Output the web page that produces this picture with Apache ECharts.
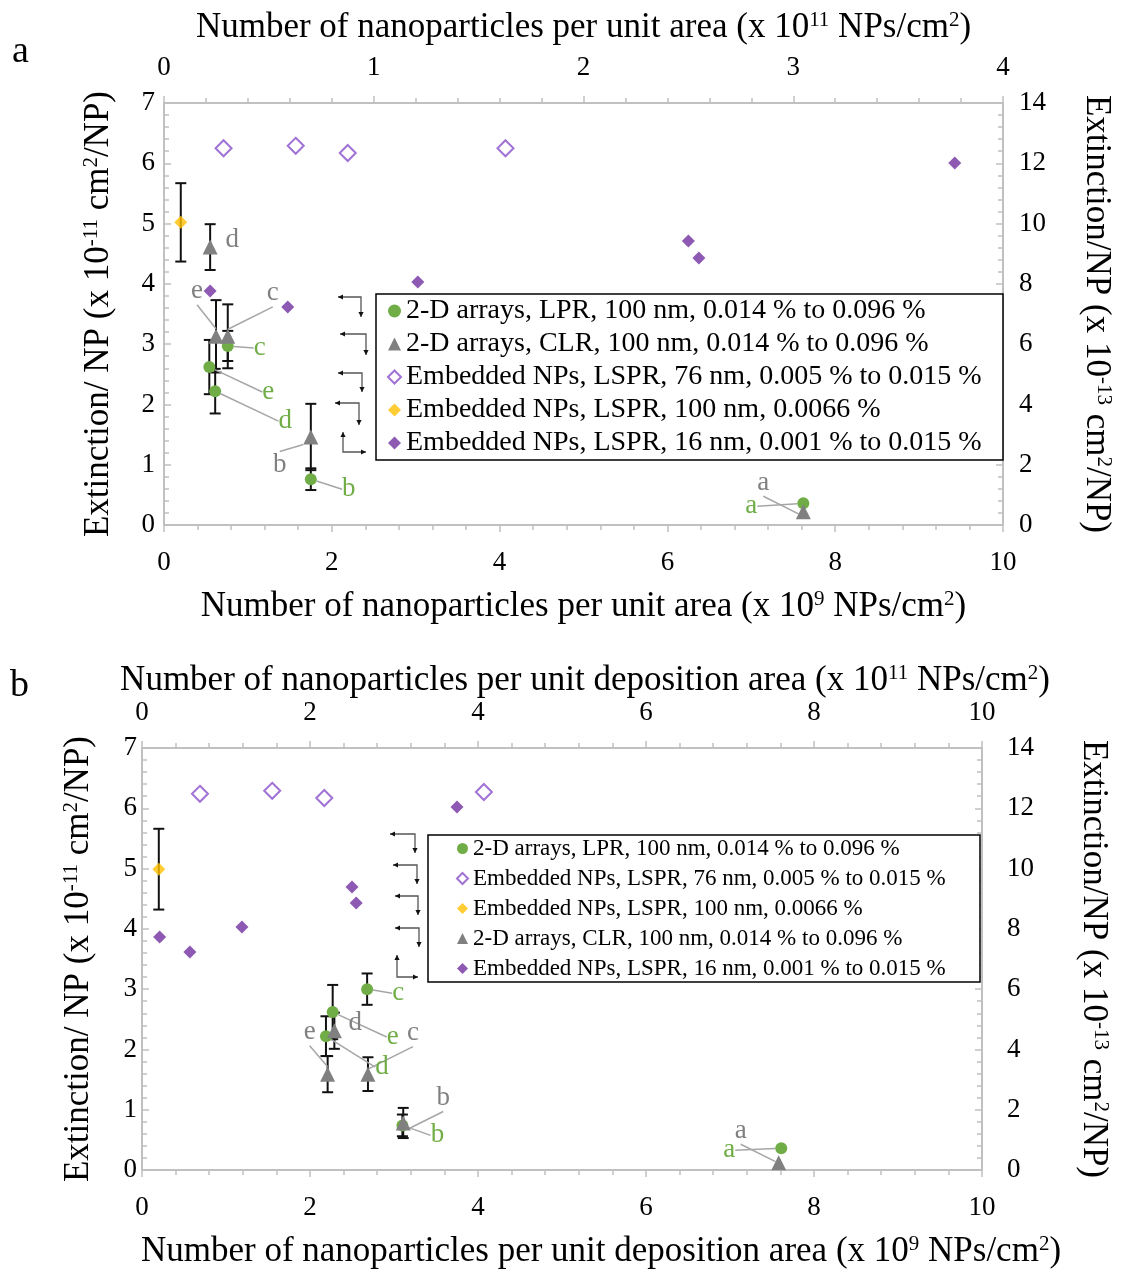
<!DOCTYPE html>
<html>
<head>
<meta charset="utf-8">
<script src="https://cdn.jsdelivr.net/npm/echarts@6/dist/echarts.min.js"></script>
<style>
html,body{margin:0;padding:0;background:#fff;}
#chart{width:1122px;height:1272px;}
</style>
</head>
<body>
<div id="chart"></div>
<script>
// ---------------- DATA ----------------
const letters = ['a', 'b', 'c', 'd', 'e'];
const seriesNames = [
  '2-D arrays, LPR, 100 nm, 0.014 % to 0.096 %',
  '2-D arrays, CLR, 100 nm, 0.014 % to 0.096 %',
  'Embedded NPs, LSPR, 76 nm, 0.005 % to 0.015 %',
  'Embedded NPs, LSPR, 100 nm, 0.0066 %',
  'Embedded NPs, LSPR, 16 nm, 0.001 % to 0.015 %'
];
// Panel a
const aLprX = [7.62, 1.75, 0.76, 0.61, 0.54];
const aLprY = [0.36, 0.76, 2.97, 2.22, 2.62];
const aLprErr = [0, 0.18, 0.25, 0.37, 0.45];
const aClrX = [7.62, 1.75, 0.76, 0.55, 0.62];
const aClrY = [0.22, 1.46, 3.13, 4.61, 3.13];
const aClrErr = [0, 0.55, 0.53, 0.38, 0.60];
const a76X = [0.71, 1.57, 2.19, 4.07];
const a76Y = [6.25, 6.29, 6.17, 6.25];
const a100X = [0.20];
const a100Y = [5.02];
const a100Err = [0.65];
const a16X = [0.22, 0.59, 1.21, 2.50, 2.55, 3.77];   // top axis, x 10^11
const a16Y = [7.76, 7.23, 8.06, 9.42, 8.86, 12.01];  // right axis, x 10^-13
// Panel b
const bLprX = [7.61, 3.10, 2.68, 2.19, 2.27];
const bLprY = [0.36, 0.74, 3.00, 2.22, 2.62];
const bLprErr = [0, 0.18, 0.26, 0.33, 0.45];
const bClrX = [7.58, 3.11, 2.69, 2.29, 2.21];
const bClrY = [0.12, 0.78, 1.59, 2.31, 1.59];
const bClrErr = [0, 0.25, 0.28, 0.30, 0.30];
const b76X = [0.69, 1.55, 2.17, 4.07];
const b76Y = [6.24, 6.29, 6.17, 6.27];
const b100X = [0.20];
const b100Y = [4.99];
const b100Err = [0.67];
const b16X = [0.21, 0.57, 1.19, 2.50, 2.55, 3.75];
const b16Y = [7.73, 7.23, 8.06, 9.39, 8.86, 12.04];
// Tick settings
const aTopMax = 4, aTopInterval = 1;
const bTopMax = 10, bTopInterval = 2;

// ---------------- STYLES (label offsets etc.) ----------------
const FONT = '"Liberation Serif", "Times New Roman", Times, serif';
const GREEN = '#70AD47', GRAY = '#808080', PURPLE = '#7030A0', OPURPLE = '#8a4fcb', ORANGE = '#FFC000';
const AXIS_GRAY = '#c0c0c0';
const NAME_FS = 35, TICK_FS = 27;
const aLprOff = [[-52, 3], [38, 10], [32, 2], [70, 30], [59, 25]];
const aClrOff = [[-40, -29], [-31, 28], [45, -43], [22, -7], [-19, -45]];
const bLprOff = [[-52, 2], [35, 10], [31, 4], [56, 31], [60, 25]];
const bClrOff = [[-38, -32], [40, -25], [45, -41], [21, -8], [-18, -42]];
const clrLine = [true, true, true, false, true];

// ---------------- HELPERS ----------------
const rich = {
  sup: { fontSize: 21, verticalAlign: 'top', fontFamily: FONT, color: '#000', lineHeight: 21 }
};
function xAxis(grid, pos, max, interval, name, nameGap, margin, shift) {
  return {
    type: 'value', gridIndex: grid, position: pos, min: 0, max: max, interval: interval,
    name: name, nameLocation: 'middle', nameGap: nameGap,
    nameTextStyle: { fontFamily: FONT, fontSize: NAME_FS, color: '#000', rich: rich, padding: [0, 0, 0, shift || 0] },
    axisLine: { show: true, onZero: false, lineStyle: { color: AXIS_GRAY, width: 2 } },
    axisTick: { show: true, length: 7, lineStyle: { color: AXIS_GRAY, width: 1.5 } },
    minorTick: { show: true, splitNumber: 5, length: 5, lineStyle: { color: AXIS_GRAY, width: 1.5 } },
    axisLabel: { fontFamily: FONT, fontSize: TICK_FS, color: '#000', margin: margin },
    splitLine: { show: false }
  };
}
function yAxis(grid, pos, max, interval, name, nameGap, margin, rotate) {
  return {
    type: 'value', gridIndex: grid, position: pos, min: 0, max: max, interval: interval,
    name: name, nameLocation: 'middle', nameGap: nameGap, nameRotate: rotate,
    nameTextStyle: { fontFamily: FONT, fontSize: NAME_FS, color: '#000', rich: rich },
    axisLine: { show: true, onZero: false, lineStyle: { color: AXIS_GRAY, width: 2 } },
    axisTick: { show: true, inside: true, length: 7, lineStyle: { color: AXIS_GRAY, width: 1.5 } },
    minorTick: { show: true, splitNumber: 5, length: 5, lineStyle: { color: AXIS_GRAY, width: 1.5 } },
    axisLabel: { fontFamily: FONT, fontSize: TICK_FS, color: '#000', margin: margin },
    splitLine: { show: false }
  };
}
function pts(xs, ys) { return xs.map((x, i) => [x, ys[i]]); }
function errData(xs, ys, es) { return xs.map((x, i) => [x, ys[i], es[i]]); }
function errSeries(xi, yi, xs, ys, es) {
  return {
    type: 'custom', name: 'err', xAxisIndex: xi, yAxisIndex: yi, z: 3, silent: true,
    encode: { x: 0, y: 1 },
    data: errData(xs, ys, es),
    renderItem: function (params, api) {
      const x = api.value(0), y = api.value(1), e = api.value(2);
      if (!e) return null;
      const t = api.coord([x, y + e]), b = api.coord([x, y - e]);
      const w = 5.5;
      const st = { stroke: '#111', lineWidth: 2, fill: null };
      return {
        type: 'group', children: [
          { type: 'line', shape: { x1: t[0], y1: t[1], x2: b[0], y2: b[1] }, style: st },
          { type: 'line', shape: { x1: t[0] - w, y1: t[1], x2: t[0] + w, y2: t[1] }, style: st },
          { type: 'line', shape: { x1: b[0] - w, y1: b[1], x2: b[0] + w, y2: b[1] }, style: st }
        ]
      };
    }
  };
}
function labelled(name, xi, yi, xs, ys, symbol, size, color, labColor, offs, lineFlags) {
  return {
    type: 'scatter', name: name, xAxisIndex: xi, yAxisIndex: yi, z: 5,
    symbol: symbol, symbolSize: size,
    itemStyle: { color: color, opacity: 1 },
    data: xs.map((x, i) => ({
      value: [x, ys[i]],
      labelLine: { show: lineFlags ? lineFlags[i] : true }
    })),
    label: {
      show: true, position: 'inside', color: labColor, fontFamily: FONT, fontSize: 27,
      formatter: p => letters[p.dataIndex]
    },
    labelLayout: p => ({ dx: offs[p.dataIndex][0], dy: offs[p.dataIndex][1] }),
    labelLine: { show: true, lineStyle: { color: '#a6a6a6', width: 1.5 } }
  };
}
function plain(name, xi, yi, xs, ys, symbol, size, itemStyle) {
  return {
    type: 'scatter', name: name, xAxisIndex: xi, yAxisIndex: yi, z: 5,
    symbol: symbol, symbolSize: size, itemStyle: itemStyle, data: pts(xs, ys)
  };
}
function head(x, y, dir) {
  const s = 5, h = 2.6;
  let p;
  if (dir === 'left') p = [[x, y], [x + s, y - h], [x + s, y + h]];
  if (dir === 'right') p = [[x, y], [x - s, y - h], [x - s, y + h]];
  if (dir === 'down') p = [[x, y], [x - h, y - s], [x + h, y - s]];
  if (dir === 'up') p = [[x, y], [x - h, y + s], [x + h, y + s]];
  return { type: 'polygon', shape: { points: p }, style: { fill: '#111' }, z: 10 };
}
function elbowLD(x1, x2, y, y2) {
  return [
    { type: 'polyline', shape: { points: [[x1, y], [x2, y], [x2, y2]] }, style: { stroke: '#555', lineWidth: 1.3, fill: null }, z: 10 },
    head(x1, y, 'left'), head(x2, y2, 'down')
  ];
}
function elbowUR(x, y1, y2, x2) {
  return [
    { type: 'polyline', shape: { points: [[x, y1], [x, y2], [x2, y2]] }, style: { stroke: '#555', lineWidth: 1.3, fill: null }, z: 10 },
    head(x, y1, 'up'), head(x2, y2, 'right')
  ];
}

const topNameA = 'Number of nanoparticles per unit area (x 10{sup|11} NPs/cm{sup|2})';
const botNameA = 'Number of nanoparticles per unit area (x 10{sup|9} NPs/cm{sup|2})';
const topNameB = 'Number of nanoparticles per unit deposition area (x 10{sup|11} NPs/cm{sup|2})';
const botNameB = 'Number of nanoparticles per unit deposition area (x 10{sup|9} NPs/cm{sup|2})';
const leftName = 'Extinction/ NP (x 10{sup|-11} cm{sup|2}/NP)';
const rightName = 'Extinction/NP (x 10{sup|-13} cm{sup|2}/NP)';

const openDia = { color: '#fff', borderColor: OPURPLE, borderWidth: 2 };

const option = {
  animation: false,
  backgroundColor: '#fff',
  title: [
    { text: 'a', left: 7, top: 28, textStyle: { fontFamily: FONT, fontSize: 38, fontWeight: 'normal', color: '#000' } },
    { text: 'b', left: 5, top: 662, textStyle: { fontFamily: FONT, fontSize: 38, fontWeight: 'normal', color: '#000' } }
  ],
  grid: [
    { left: 164, top: 103, width: 839, height: 422 },
    { left: 142, top: 748, width: 840, height: 422 }
  ],
  xAxis: [
    xAxis(0, 'bottom', 10, 2, botNameA, 64, 24, 0),
    xAxis(0, 'top', aTopMax, aTopInterval, topNameA, 58, 22, 0),
    xAxis(1, 'bottom', 10, 2, botNameB, 64, 24, 78),
    xAxis(1, 'top', bTopMax, bTopInterval, topNameB, 47, 22, 46)
  ],
  yAxis: [
    yAxis(0, 'left', 7, 1, leftName, 48, 9, 90),
    yAxis(0, 'right', 14, 2, rightName, 76, 16, -90),
    yAxis(1, 'left', 7, 1, leftName, 46, 5, 90),
    yAxis(1, 'right', 14, 2, rightName, 94, 25, -90)
  ],
  legend: [
    {
      orient: 'vertical', left: 387, top: 297, padding: 0, itemGap: 5, itemWidth: 13, itemHeight: 13,
      z: 20, textStyle: { fontFamily: FONT, fontSize: 28, lineHeight: 28, color: '#000' },
      data: seriesNames.slice()
    },
    {
      orient: 'vertical', left: 456, top: 837, padding: 0, itemGap: 7, itemWidth: 11, itemHeight: 11,
      z: 20, textStyle: { fontFamily: FONT, fontSize: 23, lineHeight: 22, color: '#000' },
      data: [seriesNames[0], seriesNames[2], seriesNames[3], seriesNames[1], seriesNames[4]]
    }
  ],
  series: [
    // panel a
    errSeries(0, 0, aLprX, aLprY, aLprErr),
    errSeries(0, 0, aClrX, aClrY, aClrErr),
    errSeries(0, 0, a100X, a100Y, a100Err),
    labelled(seriesNames[0], 0, 0, aLprX, aLprY, 'circle', 12, GREEN, GREEN, aLprOff, null),
    labelled(seriesNames[1], 0, 0, aClrX, aClrY, 'triangle', 15, GRAY, GRAY, aClrOff, clrLine),
    plain(seriesNames[2], 0, 0, a76X, a76Y, 'diamond', 16, openDia),
    plain(seriesNames[3], 0, 0, a100X, a100Y, 'diamond', 13, { color: ORANGE }),
    plain(seriesNames[4], 1, 1, a16X, a16Y, 'diamond', 13, { color: PURPLE }),
    // panel b
    errSeries(2, 2, bLprX, bLprY, bLprErr),
    errSeries(2, 2, bClrX, bClrY, bClrErr),
    errSeries(2, 2, b100X, b100Y, b100Err),
    labelled(seriesNames[0], 2, 2, bLprX, bLprY, 'circle', 12, GREEN, GREEN, bLprOff, null),
    labelled(seriesNames[1], 2, 2, bClrX, bClrY, 'triangle', 15, GRAY, GRAY, bClrOff, clrLine),
    plain(seriesNames[2], 2, 2, b76X, b76Y, 'diamond', 16, openDia),
    plain(seriesNames[3], 2, 2, b100X, b100Y, 'diamond', 13, { color: ORANGE }),
    plain(seriesNames[4], 3, 3, b16X, b16Y, 'diamond', 13, { color: PURPLE })
  ],
  graphic: [].concat(
    [
      { type: 'rect', shape: { x: 376, y: 294, width: 627, height: 166 }, style: { fill: '#fff', stroke: '#000', lineWidth: 1.5 }, z: 8 },
      { type: 'rect', shape: { x: 428, y: 835, width: 552, height: 147 }, style: { fill: '#fff', stroke: '#000', lineWidth: 1.5 }, z: 8 }
    ],
    elbowLD(338, 361, 297, 317),
    elbowLD(340, 366, 334, 355),
    elbowLD(338, 362, 373, 392),
    elbowLD(335, 359, 403, 425),
    elbowUR(343, 432, 452, 366),
    elbowLD(390, 415, 834, 853),
    elbowLD(393, 417, 865, 884),
    elbowLD(395, 418, 896, 915),
    elbowLD(395, 419, 928, 947),
    elbowUR(397, 955, 977, 418)
  )
};

const chart = echarts.init(document.getElementById('chart'), null, { renderer: 'canvas' });
chart.setOption(option);
</script>
</body>
</html>
